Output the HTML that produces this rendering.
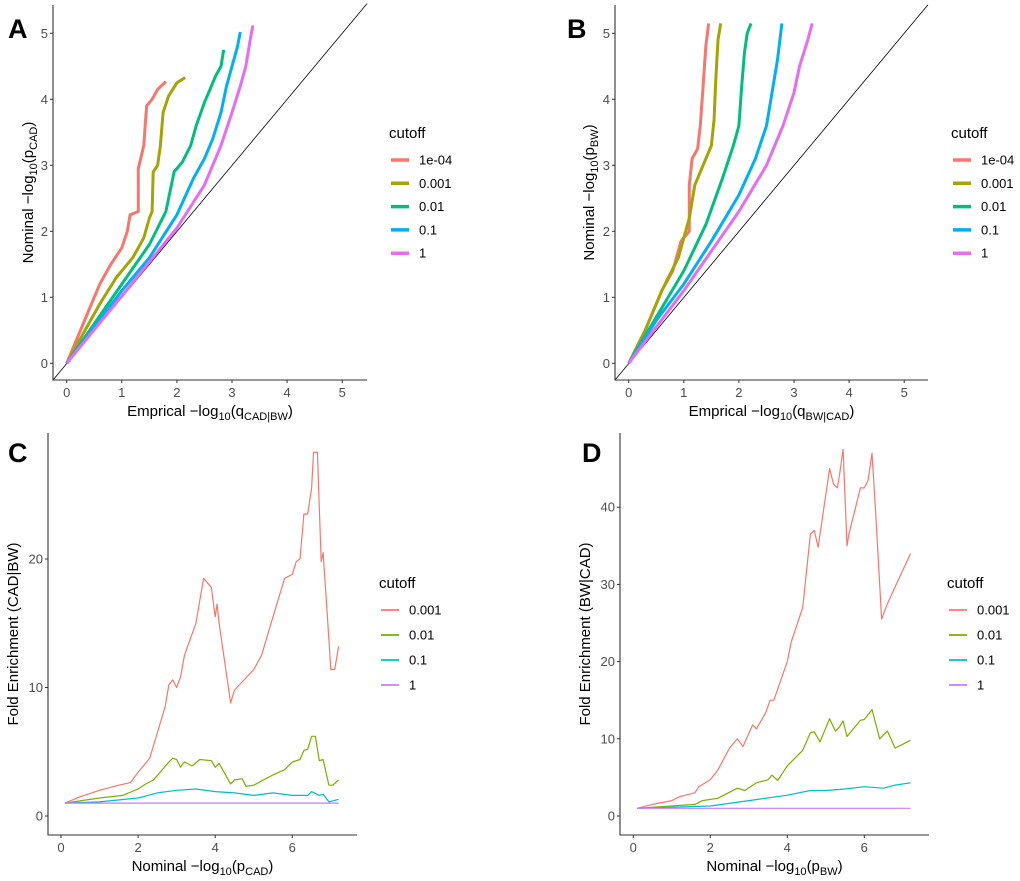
<!DOCTYPE html>
<html><head><meta charset="utf-8"><style>
body{margin:0;background:#fff;}
svg{display:block;font-family:"Liberation Sans",sans-serif;}
</style></head><body>
<svg id="fig" width="1020" height="881" viewBox="0 0 1020 881" xmlns="http://www.w3.org/2000/svg"></svg>
<script>
// ---- Panel A data (QQ, x = empirical, y = nominal) ----
const aRedX=[0,0.2,0.4,0.6,0.8,1.0,1.1,1.15,1.3,1.3,1.4,1.45,1.55,1.65,1.8];
const aRedY=[0,0.4,0.8,1.2,1.5,1.75,2.0,2.25,2.3,2.95,3.3,3.9,4.0,4.15,4.27];
const aOliveX=[0,0.3,0.6,0.9,1.2,1.4,1.5,1.55,1.57,1.65,1.7,1.75,1.85,2.0,2.15];
const aOliveY=[0,0.45,0.9,1.3,1.6,1.9,2.2,2.3,2.9,3.0,3.3,3.8,4.05,4.25,4.33];
const aGreenX=[0,0.5,1.0,1.5,1.8,1.95,2.1,2.25,2.35,2.5,2.6,2.7,2.8,2.85];
const aGreenY=[0,0.6,1.2,1.8,2.3,2.9,3.05,3.3,3.6,3.95,4.15,4.35,4.5,4.75];
const aBlueX=[0,0.5,1.0,1.5,2.0,2.3,2.5,2.65,2.8,2.9,3.0,3.1,3.15];
const aBlueY=[0,0.55,1.1,1.6,2.25,2.8,3.1,3.4,3.8,4.2,4.5,4.8,5.02];
const aPinkX=[0,1,2,2.5,2.8,3.0,3.15,3.25,3.33,3.38];
const aPinkY=[0,1.02,2.05,2.7,3.3,3.8,4.2,4.5,4.9,5.12];
// ---- Panel B data ----
const bRedX=[0,0.3,0.6,0.8,0.95,1.1,1.1,1.15,1.25,1.3,1.35,1.4,1.45];
const bRedY=[0,0.5,1.1,1.4,1.85,2.0,2.7,3.1,3.25,3.6,4.2,4.8,5.15];
const bOliveX=[0,0.3,0.6,0.9,1.1,1.2,1.35,1.5,1.55,1.58,1.62,1.67];
const bOliveY=[0,0.5,1.1,1.6,2.2,2.7,3.0,3.3,3.7,4.3,4.9,5.15];
const bGreenX=[0,0.5,1.0,1.4,1.7,1.9,2.0,2.05,2.1,2.15,2.22];
const bGreenY=[0,0.7,1.4,2.1,2.8,3.3,3.6,4.2,4.7,5.0,5.15];
const bBlueX=[0,0.5,1.0,1.5,2.0,2.3,2.5,2.6,2.7,2.78];
const bBlueY=[0,0.65,1.2,1.85,2.55,3.1,3.6,4.1,4.6,5.15];
const bPinkX=[0,1,2,2.5,2.8,3.0,3.1,3.25,3.33];
const bPinkY=[0,1.1,2.3,3.0,3.6,4.1,4.5,4.9,5.15];
// ---- Panel C data (fold enrichment) ----
const cRedX=[0.1,0.5,1,1.5,1.8,2,2.3,2.5,2.7,2.8,2.9,3.0,3.1,3.2,3.5,3.7,3.9,4.0,4.05,4.1,4.4,4.5,5,5.2,5.5,5.8,6.0,6.1,6.2,6.3,6.4,6.5,6.55,6.65,6.7,6.75,6.8,6.9,7.0,7.1,7.2];
const cRedY=[1,1.5,2,2.4,2.6,3.4,4.5,6.5,8.5,10.2,10.6,10.0,10.8,12.5,15,18.5,17.8,15.5,16.5,15,8.8,9.8,11.4,12.5,15.5,18.5,18.8,19.8,20,23.5,23.5,25.5,28.3,28.3,24,19.8,20.5,16,11.4,11.4,13.2];
const cGreenX=[0.1,1,1.6,2,2.2,2.4,2.6,2.8,2.9,3.0,3.1,3.2,3.4,3.6,3.9,4.0,4.1,4.4,4.5,4.7,4.8,5,5.5,5.8,6.0,6.2,6.3,6.4,6.5,6.6,6.7,6.8,6.95,7.05,7.2];
const cGreenY=[1,1.4,1.6,2.1,2.5,2.8,3.5,4.2,4.5,4.4,3.8,4.2,3.9,4.4,4.3,3.8,4.1,2.5,2.8,2.9,2.3,2.4,3.2,3.6,4.2,4.4,5.1,5.2,6.2,6.2,4.3,4.4,2.4,2.4,2.8];
const cCyanX=[0.1,1,2,2.5,3,3.5,4,4.5,5,5.5,6,6.4,6.5,6.7,6.8,6.95,7.2];
const cCyanY=[1,1.1,1.4,1.8,2.0,2.1,1.9,1.8,1.6,1.8,1.6,1.6,1.9,1.6,1.7,1.1,1.3];
const cPurpleX=[0.1,7.2];
const cPurpleY=[1,1];
// ---- Panel D data ----
const dRedX=[0.1,0.5,1,1.2,1.6,1.7,2,2.2,2.5,2.7,2.85,3.1,3.2,3.45,3.55,3.65,4,4.1,4.4,4.6,4.7,4.8,5.1,5.2,5.3,5.35,5.45,5.55,5.6,5.9,6.0,6.1,6.2,6.3,6.45,6.6,7.2];
const dRedY=[1,1.5,2,2.5,3,3.8,4.7,6,8.8,10,9,11.8,11.3,13.5,15,15,20,22.5,27,36.5,37,34.8,45,43,42.5,44,47.5,35,36.5,42.5,42.5,43.5,47,39,25.5,27.5,34];
const dGreenX=[0.1,1.6,1.8,2.2,2.7,2.9,3.2,3.5,3.6,3.75,4.0,4.2,4.4,4.6,4.7,4.85,5.1,5.25,5.35,5.45,5.55,5.9,6.0,6.2,6.4,6.6,6.8,7.2];
const dGreenY=[1,1.5,2,2.3,3.6,3.3,4.3,4.7,5.3,4.6,6.5,7.5,8.5,10.8,10.9,9.6,12.6,11,11.5,12.3,10.3,12.4,12.5,13.8,10,11,8.8,9.8];
const dCyanX=[0.1,2,3,4,4.6,5,5.5,6,6.5,6.8,7.2];
const dCyanY=[1,1.3,2,2.7,3.3,3.3,3.5,3.8,3.6,4,4.3];
const dPurpleX=[0.1,7.2];
const dPurpleY=[1,1];
// ---- ticks / legend labels ----
const qqTicks=[0,1,2,3,4,5];
const xFeTicks=[0,2,4,6];
const cYTicks=[0,10,20];
const dYTicks=[0,10,20,30,40];
const qqLegend=["1e-04","0.001","0.01","0.1","1"];
const feLegend=["0.001","0.01","0.1","1"];

const NS="http://www.w3.org/2000/svg";
const svg=document.getElementById('fig');
function el(tag,attrs,parent,text){
  const e=document.createElementNS(NS,tag);
  for(const k in attrs)e.setAttribute(k,attrs[k]);
  if(text!==undefined)e.textContent=text;
  (parent||svg).appendChild(e);return e;
}
function panel(cfg){
  const g=el('g',{});
  
  
  const sx=v=>cfg.x0+(v-cfg.xd0)*cfg.xs;
  const sy=v=>cfg.y0-(v-cfg.yd0)*cfg.ys;
  // diagonal
  if(cfg.diag){
    const l=el('line',{x1:cfg.left,y1:cfg.bottom,x2:cfg.right,y2:sy((cfg.right-cfg.x0)/cfg.xs+cfg.xd0),stroke:'#000','stroke-width':0.8},g);
    
    
  }
  // series
  cfg.series.forEach(s=>{
    const pts=s.x.map((v,i)=>sx(v).toFixed(1)+','+sy(s.y[i]).toFixed(1)).join(' ');
    const p=el('polyline',{points:pts,fill:'none',stroke:s.color,'stroke-width':cfg.lw,'stroke-linejoin':'round'},g);
    
    
  });
  // axes
  const ax=el('path',{d:`M${cfg.left},${cfg.top}V${cfg.bottom}H${cfg.right}`,fill:'none',stroke:'#333','stroke-width':1.1},g);
  
  
  cfg.xt.forEach(t=>{
    el('line',{x1:sx(t),x2:sx(t),y1:cfg.bottom,y2:cfg.bottom+3,stroke:'#333'},g);
    const tx=el('text',{x:sx(t),y:cfg.bottom+17,'text-anchor':'middle','font-size':13,fill:'#4d4d4d'},g,String(t));
    
    
  });
  cfg.yt.forEach(t=>{
    el('line',{x1:cfg.left-3,x2:cfg.left,y1:sy(t),y2:sy(t),stroke:'#333'},g);
    const tx=el('text',{x:cfg.left-5,y:sy(t)+4.5,'text-anchor':'end','font-size':13,fill:'#4d4d4d'},g,String(t));
    
    
  });
  // titles
  const xtEl=el('text',{x:(cfg.left+cfg.right)/2,y:cfg.bottom+36,'text-anchor':'middle','font-size':15,fill:'#000'},g);
  xtEl.innerHTML=cfg.xtitle;
  
  
  const ytEl=el('text',{x:0,y:0,'text-anchor':'middle','font-size':15,fill:'#000',transform:`translate(${cfg.ytx},${(cfg.top+cfg.bottom)/2}) rotate(-90)`},g);
  ytEl.innerHTML=cfg.ytitle;
  
  
  const lab=el('text',{x:cfg.lx,y:cfg.ly,'font-size':27,'font-weight':'bold',fill:'#000'},g,cfg.letter);
  
  
  // legend
  const lg=el('g',{},g);
  
  
  el('text',{x:cfg.legx,y:cfg.legy,'font-size':15,fill:'#000'},lg,'cutoff');
  cfg.series.forEach((s,i)=>{
    const yy=cfg.legy+22+i*cfg.legStep;
    el('line',{x1:cfg.legx+2,x2:cfg.legx+20,y1:yy,y2:yy,stroke:s.color,'stroke-width':cfg.lw+0.5},lg);
    const t=el('text',{x:cfg.legx+30,y:yy+4.5,'font-size':13,fill:'#000'},lg,s.label);
    
    
  });
}
const qqCols=['#F8766D','#A3A500','#00BF7D','#00B0F6','#E76BF3'];
const feCols=['#F8766D','#7CAE00','#00BFC4','#C77CFF'];
panel({name:'panel-a',letter:'A',lx:8,ly:38,x0:66.7,xd0:0,xs:55.1,y0:363.3,yd0:0,ys:66,left:53,right:367,top:5,bottom:380,diag:true,lw:3,
  xt:qqTicks,yt:qqTicks,ytx:33,
  xtitle:'Emprical &#8722;log<tspan font-size="11" dy="4">10</tspan><tspan dy="-4">(q</tspan><tspan font-size="11" dy="4">CAD|BW</tspan><tspan dy="-4">)</tspan>',
  ytitle:'Nominal &#8722;log<tspan font-size="11" dy="4">10</tspan><tspan dy="-4">(p</tspan><tspan font-size="11" dy="4">CAD</tspan><tspan dy="-4">)</tspan>',
  legx:389,legy:138,legStep:23.3,
  series:[{x:aRedX,y:aRedY,color:qqCols[0],label:qqLegend[0]},{x:aOliveX,y:aOliveY,color:qqCols[1],label:qqLegend[1]},{x:aGreenX,y:aGreenY,color:qqCols[2],label:qqLegend[2]},{x:aBlueX,y:aBlueY,color:qqCols[3],label:qqLegend[3]},{x:aPinkX,y:aPinkY,color:qqCols[4],label:qqLegend[4]}]});
panel({name:'panel-b',letter:'B',lx:567,ly:38,x0:628.7,xd0:0,xs:55.1,y0:363.3,yd0:0,ys:66,left:615,right:928,top:5,bottom:380,diag:true,lw:3,
  xt:qqTicks,yt:qqTicks,ytx:594,
  xtitle:'Emprical &#8722;log<tspan font-size="11" dy="4">10</tspan><tspan dy="-4">(q</tspan><tspan font-size="11" dy="4">BW|CAD</tspan><tspan dy="-4">)</tspan>',
  ytitle:'Nominal &#8722;log<tspan font-size="11" dy="4">10</tspan><tspan dy="-4">(p</tspan><tspan font-size="11" dy="4">BW</tspan><tspan dy="-4">)</tspan>',
  legx:951,legy:138,legStep:23.3,
  series:[{x:bRedX,y:bRedY,color:qqCols[0],label:qqLegend[0]},{x:bOliveX,y:bOliveY,color:qqCols[1],label:qqLegend[1]},{x:bGreenX,y:bGreenY,color:qqCols[2],label:qqLegend[2]},{x:bBlueX,y:bBlueY,color:qqCols[3],label:qqLegend[3]},{x:bPinkX,y:bPinkY,color:qqCols[4],label:qqLegend[4]}]});
panel({name:'panel-c',letter:'C',lx:8,ly:462,x0:61,xd0:0,xs:38.55,y0:816,yd0:0,ys:12.85,left:48,right:357,top:433,bottom:835,diag:false,lw:1.2,
  xt:xFeTicks,yt:cYTicks,ytx:18,
  xtitle:'Nominal &#8722;log<tspan font-size="11" dy="4">10</tspan><tspan dy="-4">(p</tspan><tspan font-size="11" dy="4">CAD</tspan><tspan dy="-4">)</tspan>',
  ytitle:'Fold Enrichment (CAD|BW)',
  legx:379,legy:588,legStep:25,
  series:[{x:cRedX,y:cRedY,color:feCols[0],label:feLegend[0]},{x:cGreenX,y:cGreenY,color:feCols[1],label:feLegend[1]},{x:cCyanX,y:cCyanY,color:feCols[2],label:feLegend[2]},{x:cPurpleX,y:cPurpleY,color:feCols[3],label:feLegend[3]}]});
panel({name:'panel-d',letter:'D',lx:582,ly:462,x0:633.3,xd0:0,xs:38.5,y0:816,yd0:0,ys:7.72,left:620,right:929,top:433,bottom:835,diag:false,lw:1.2,
  xt:xFeTicks,yt:dYTicks,ytx:590,
  xtitle:'Nominal &#8722;log<tspan font-size="11" dy="4">10</tspan><tspan dy="-4">(p</tspan><tspan font-size="11" dy="4">BW</tspan><tspan dy="-4">)</tspan>',
  ytitle:'Fold Enrichment (BW|CAD)',
  legx:947,legy:588,legStep:25,
  series:[{x:dRedX,y:dRedY,color:feCols[0],label:feLegend[0]},{x:dGreenX,y:dGreenY,color:feCols[1],label:feLegend[1]},{x:dCyanX,y:dCyanY,color:feCols[2],label:feLegend[2]},{x:dPurpleX,y:dPurpleY,color:feCols[3],label:feLegend[3]}]});
</script>
</body></html>
